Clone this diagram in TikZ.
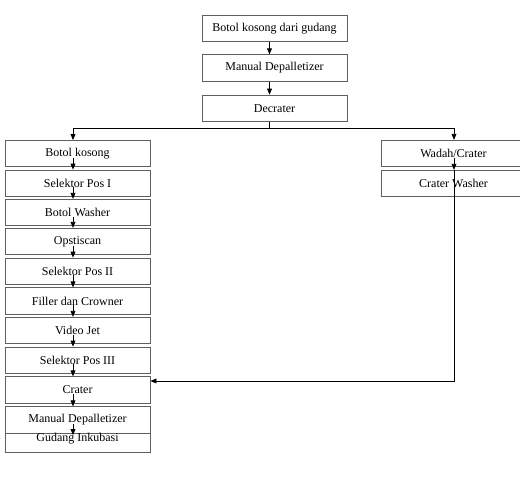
\documentclass[tikz,border=0pt]{standalone}
\usepackage{fontspec}
\setmainfont{Liberation Serif}
\usetikzlibrary{arrows.meta,calc}
\tikzset{
  stagebox/.style={draw={rgb, 255:red, 95; green, 95; blue, 95},line width=0.6pt,fill=white,
    minimum width=108.75pt,minimum height=19.8pt,inner sep=0pt,font=\fontsize{9}{10}\selectfont},
  flow/.style={line width=0.6pt,-{Triangle[length=4.5pt,width=3.6pt]}}
}

\begin{document}
\begin{tikzpicture}[x=0.75pt,y=0.75pt,yscale=-1,xscale=1]
        \useasboundingbox (0,0) rectangle (520,484); %set diagram 520 wide and 484 high
        \clip (0,0) rectangle (520,484);

        % Top column
        \node [stagebox] (gudang1) at (274.5,28.5) {Botol kosong dari gudang};
        \node [stagebox] (depal1) at (274.5,68) {Manual Depalletizer};
        \node [stagebox] (decrater) at (274.5,108.3) {Decrater};

        % Left column (bottles)
        \node [stagebox] (botol) at (77.5,153.7) {Botol kosong};
        \node [stagebox] (sel1) at (77.5,183.3) {Selektor Pos I};
        \node [stagebox] (bwasher) at (77.5,212.5) {Botol Washer};
        \node [stagebox] (optis) at (77.5,241.5) {Opstiscan};
        \node [stagebox] (sel2) at (77.5,271.3) {Selektor Pos II};
        \node [stagebox] (filler) at (77.5,301) {Filler dan Crowner};
        \node [stagebox] (video) at (77.5,330.5) {Video Jet};
        \node [stagebox] (sel3) at (77.5,360.2) {Selektor Pos III};
        \node [stagebox] (crater) at (77.5,390) {Crater};
        \node [stagebox] (inkubasi) at (77.5,439.5) {};
        \node [stagebox] (depal2) at (77.5,420) {Manual Depalletizer};
        % Text Node
        \node [font=\fontsize{9}{10}\selectfont,inner sep=0pt] (inktext) at (77.5,438.5) {Gudang Inkubasi};

        % Right column (crates)
        \node [stagebox] (wadah) at (453.5,153.5) {Wadah/Crater};
        \node [stagebox] (cwasher) at (453.5,183.5) {Crater Washer};

        % Straight Lines
        \draw [flow] ($(gudang1.south)+(-5,0)$) -- ($(depal1.north)+(-5,0)$);
        \draw [flow] ($(depal1.south)+(-5,0)$) -- ($(decrater.north)+(-5,0)$);
        \coordinate (split) at ($(decrater.south)+(-5,7)$);
        \draw [line width=0.6pt] ($(decrater.south)+(-5,0)$) -- (split);
        \draw [flow] (split) -| ($(botol.north)+(-4.5,0)$);
        \draw [flow] (split) -| ($(wadah.north)+(0.5,0)$);

        \draw [flow] ($(botol.south)+(-4.5,-9.5)$) -- ($(sel1.north)+(-4.5,0)$);
        \draw [flow] ($(sel1.south)+(-4.5,-9.5)$) -- ($(bwasher.north)+(-4.5,0)$);
        \draw [flow] ($(bwasher.south)+(-4.5,-9.5)$) -- ($(optis.north)+(-4.5,0)$);
        \draw [flow] ($(optis.south)+(-4.5,-9.5)$) -- ($(sel2.north)+(-4.5,0)$);
        \draw [flow] ($(sel2.south)+(-4.5,-9.5)$) -- ($(filler.north)+(-4.5,0)$);
        \draw [flow] ($(filler.south)+(-4.5,-9.5)$) -- ($(video.north)+(-4.5,0)$);
        \draw [flow] ($(video.south)+(-4.5,-9.5)$) -- ($(sel3.north)+(-4.5,0)$);
        \draw [flow] ($(sel3.south)+(-4.5,-9.5)$) -- ($(crater.north)+(-4.5,0)$);
        \draw [flow] ($(crater.south)+(-4.5,-9.5)$) -- ($(depal2.north)+(-4.5,0)$);
        \draw [flow] ($(depal2.south)+(-4.5,-9.5)$) -- ($(depal2.south)+(-4.5,1.5)$);

        \draw [flow] ($(wadah.south)+(0.5,-9.5)$) -- ($(cwasher.north)+(0.5,0)$);
        % Crates back to crater
        \draw [flow] ($(cwasher.north)+(0.5,0)$) |- ($(crater.east)+(0,-9)$);

        \end{tikzpicture}
\end{document}
